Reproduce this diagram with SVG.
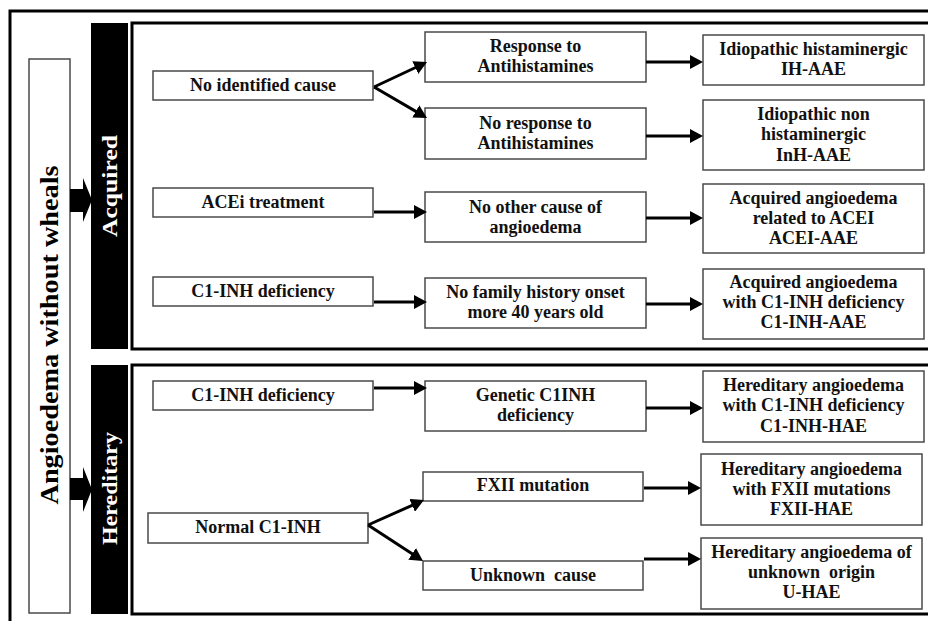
<svg xmlns="http://www.w3.org/2000/svg" width="928" height="621" viewBox="0 0 928 621">
<style>
.box{fill:#fff;stroke:#4a4a4a;stroke-width:1.5}
.frame{fill:none;stroke:#000;stroke-width:3}
.bar{fill:#000}
.t{font-family:"Liberation Serif","Times New Roman",serif;font-weight:bold;font-size:18px;fill:#111;text-anchor:middle}
.big{font-family:"Liberation Serif","Times New Roman",serif;font-weight:bold;font-size:26px;fill:#000;text-anchor:middle}
.bt{font-family:"Liberation Serif","Times New Roman",serif;font-weight:bold;font-size:22px;fill:#fff;text-anchor:middle}
.c{stroke:#000;stroke-width:3;fill:none;marker-end:url(#ah)}
</style>
<defs>
<marker id="ah" markerUnits="userSpaceOnUse" markerWidth="13" markerHeight="14" refX="5" refY="7" orient="auto" viewBox="0 0 13 14">
<path d="M0,0 L13,7 L0,14 z" fill="#000"/>
</marker>
</defs>
<rect width="928" height="621" fill="#fff"/>
<g id="frames">
<rect class="frame" x="10" y="11" width="940" height="630"/>
<rect class="frame" x="132" y="23" width="820" height="326"/>
<rect class="frame" x="132" y="365" width="820" height="249"/>
</g>
<g id="root">
<rect class="box" x="29" y="59" width="41" height="554"/>
<text class="big" transform="translate(58,335) rotate(-90)" textLength="339" lengthAdjust="spacingAndGlyphs">Angioedema without wheals</text>
</g>
<g id="acquired">
<rect class="bar" x="91" y="23" width="37" height="326"/>
<text class="bt" transform="translate(117,186) rotate(-90)" textLength="102" lengthAdjust="spacingAndGlyphs">Acquired</text>
</g>
<g id="hereditary">
<rect class="bar" x="91" y="365" width="37" height="249"/>
<text class="bt" transform="translate(117,488.5) rotate(-90)" textLength="113" lengthAdjust="spacingAndGlyphs">Hereditary</text>
</g>
<g id="n-noid">
<rect class="box" x="153" y="71" width="220" height="29"/>
<text class="t" x="263" y="91">No identified cause</text>
</g>
<g id="n-acei">
<rect class="box" x="153" y="188" width="220" height="29"/>
<text class="t" x="263" y="208">ACEi treatment</text>
</g>
<g id="n-c1acq">
<rect class="box" x="153" y="277" width="220" height="29"/>
<text class="t" x="263" y="297">C1-INH deficiency</text>
</g>
<g id="n-c1her">
<rect class="box" x="153" y="381" width="220" height="29"/>
<text class="t" x="263" y="401">C1-INH deficiency</text>
</g>
<g id="n-normal">
<rect class="box" x="148" y="513" width="220" height="30"/>
<text class="t" x="258" y="533">Normal C1-INH</text>
</g>
<g id="n-resp">
<rect class="box" x="425" y="32" width="221" height="50"/>
<text class="t" x="535.5" y="52">Response to</text>
<text class="t" x="535.5" y="72">Antihistamines</text>
</g>
<g id="n-noresp">
<rect class="box" x="425" y="108" width="221" height="51"/>
<text class="t" x="535.5" y="129">No response to</text>
<text class="t" x="535.5" y="149">Antihistamines</text>
</g>
<g id="n-noother">
<rect class="box" x="425" y="192" width="221" height="50"/>
<text class="t" x="535.5" y="213">No other cause of</text>
<text class="t" x="535.5" y="233">angioedema</text>
</g>
<g id="n-nofam">
<rect class="box" x="425" y="278" width="221" height="50"/>
<text class="t" x="535.5" y="298">No family history onset</text>
<text class="t" x="535.5" y="318">more 40 years old</text>
</g>
<g id="n-genetic">
<rect class="box" x="425" y="381" width="221" height="50"/>
<text class="t" x="535.5" y="401">Genetic C1INH</text>
<text class="t" x="535.5" y="421">deficiency</text>
</g>
<g id="n-fxii">
<rect class="box" x="423" y="472" width="220" height="29"/>
<text class="t" x="533" y="491">FXII mutation</text>
</g>
<g id="n-unknown">
<rect class="box" x="423" y="561" width="220" height="29"/>
<text class="t" x="533" y="581" xml:space="preserve">Unknown  cause</text>
</g>
<g id="r-ih">
<rect class="box" x="703" y="35" width="221" height="50"/>
<text class="t" x="813.5" y="55">Idiopathic histaminergic</text>
<text class="t" x="813.5" y="75">IH-AAE</text>
</g>
<g id="r-inh">
<rect class="box" x="703" y="100" width="221" height="70"/>
<text class="t" x="813.5" y="120">Idiopathic non</text>
<text class="t" x="813.5" y="140">histaminergic</text>
<text class="t" x="813.5" y="160.5">InH-AAE</text>
</g>
<g id="r-acei">
<rect class="box" x="703" y="184" width="221" height="69"/>
<text class="t" x="813.5" y="203.5">Acquired angioedema</text>
<text class="t" x="813.5" y="223.5">related to ACEI</text>
<text class="t" x="813.5" y="243.5">ACEI-AAE</text>
</g>
<g id="r-c1aae">
<rect class="box" x="703" y="269" width="221" height="70"/>
<text class="t" x="813.5" y="288">Acquired angioedema</text>
<text class="t" x="813.5" y="308">with C1-INH deficiency</text>
<text class="t" x="813.5" y="328">C1-INH-AAE</text>
</g>
<g id="r-c1hae">
<rect class="box" x="703" y="371" width="221" height="71"/>
<text class="t" x="813.5" y="391">Hereditary angioedema</text>
<text class="t" x="813.5" y="411">with C1-INH deficiency</text>
<text class="t" x="813.5" y="431.5">C1-INH-HAE</text>
</g>
<g id="r-fxii">
<rect class="box" x="701" y="454" width="221" height="71"/>
<text class="t" x="811.5" y="475">Hereditary angioedema</text>
<text class="t" x="811.5" y="495">with FXII mutations</text>
<text class="t" x="811.5" y="515">FXII-HAE</text>
</g>
<g id="r-uhae">
<rect class="box" x="701" y="538" width="221" height="71"/>
<text class="t" x="811.5" y="558">Hereditary angioedema of</text>
<text class="t" x="811.5" y="578" xml:space="preserve">unknown  origin</text>
<text class="t" x="811.5" y="598">U-HAE</text>
</g>
<g id="connectors">
<path d="M70,189 L83,189 L83,178 L92,200 L83,222 L83,212 L70,212 z" fill="#000"/>
<path d="M70,478 L83,478 L83,467 L92,489.5 L83,512 L83,500 L70,500 z" fill="#000"/>
<path class="c" d="M374,87 L419.8,65.5"/>
<path class="c" d="M374,87 L420.1,113.9"/>
<path class="c" d="M368,525 L416.7,503.3"/>
<path class="c" d="M368,525 L416.3,556.6"/>
<path class="c" d="M374,212 L419,212"/>
<path class="c" d="M374,302 L419,302"/>
<path class="c" d="M374,388 L419,388"/>
<path class="c" d="M646,62 L695,62"/>
<path class="c" d="M646,136 L695,136"/>
<path class="c" d="M646,218 L695,218"/>
<path class="c" d="M646,304 L695,304"/>
<path class="c" d="M646,408 L695,408"/>
<path class="c" d="M644,488 L693,488"/>
<path class="c" d="M644,559 L693,559"/>
</g>
</svg>
